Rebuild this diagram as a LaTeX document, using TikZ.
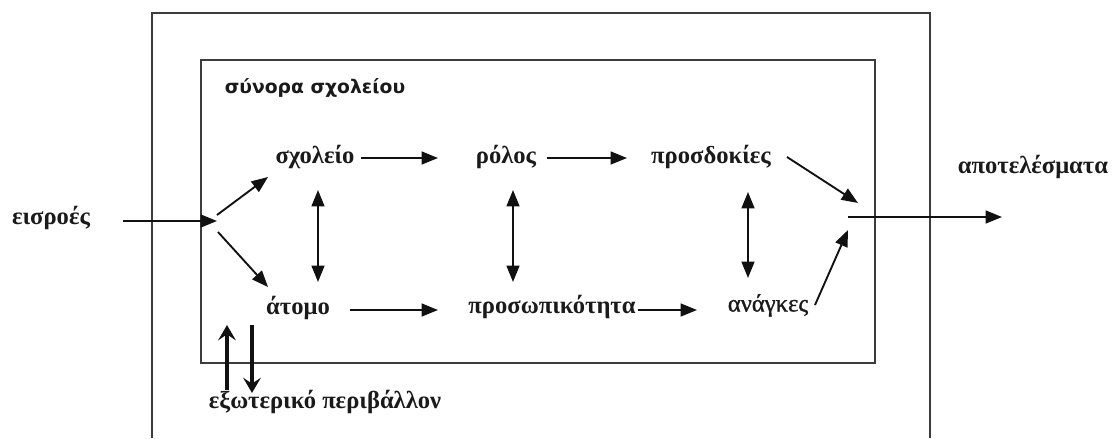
\documentclass[tikz,border=0pt]{standalone}
\usepackage{fontspec}
\setmainfont{Liberation Serif}
\newfontfamily\sansgr{DejaVu Sans}
\newfontfamily\semiserif[FakeBold=1.2]{Liberation Serif}
\usepackage{xcolor}
\usepackage{tikz}
\usetikzlibrary{arrows.meta,calc}
\definecolor{cFrame}{HTML}{3C3C3C}
\definecolor{cArrow}{HTML}{111111}
\definecolor{cWord}{HTML}{1A1A1A}
\tikzset{
  frameline/.style={draw=cFrame,line width=2pt},
  word/.style={font=\bfseries\fontsize{21}{25}\selectfont,text=cWord,inner sep=0pt,
      text height=10pt,text depth=4pt},
  wordlight/.style={word,font=\semiserif\fontsize{21}{25}\selectfont},
  rimlabel/.style={font=\sansgr\bfseries\fontsize{16}{19}\selectfont,text=cWord,
      inner sep=0pt},
  flow/.style={-{Triangle[length=14pt,width=11pt]},line width=1.6pt,draw=cArrow},
  dflow/.style={{Triangle[length=14pt,width=11pt]}-{Triangle[length=14pt,width=11pt]},
      line width=1.6pt,draw=cArrow},
  envflow/.style={-{Stealth[length=13pt,width=15pt,inset=5pt]},line width=2.6pt,
      draw=cArrow},
}
\newcommand{\wordat}[4]{\node[#1] (#2) at (#3) {#4};}

\begin{document}
\begin{tikzpicture}[x=0.03cm,y=-0.03cm]
  \useasboundingbox (0,0) rectangle (1115,438);

  \draw[frameline] (152,438) -- (152,13) -- (930,13) -- (930,438);
  \draw[frameline] (201,60) rectangle (875,363);

  \wordat{rimlabel}{orio}{315,88}{σύνορα σχολείου}
  \wordat{word}{eisroes}{51,221}{εισροές}
  \wordat{word}{sxoleio}{315,160}{σχολείο}
  \wordat{word}{rolos}{506,160}{ρόλος}
  \wordat{word}{prosdokies}{711,160}{προσδοκίες}
  \wordat{word}{atomo}{298,311}{άτομο}
  \wordat{word}{prosopik}{552,310}{προσωπικότητα}
  \wordat{wordlight}{anagkes}{768,308}{ανάγκες}
  \wordat{word}{apotel}{1033,170}{αποτελέσματα}
  \wordat{word}{perivallon}{325,405}{εξωτερικό περιβάλλον}

  \coordinate (split) at (217,221);
  \coordinate (merge) at (848,217);
  \coordinate (exit) at (1002,217);

  \draw[flow] ($(eisroes)+(72,0)$) -- (split);
  \draw[flow] ($(split)+(0,-6)$) -- ($(sxoleio)+(-47,17)$);
  \draw[flow] ($(split)+(1,11)$) -- ($(atomo)+(-30,-24)$);

  \draw[flow] ($(sxoleio)+(46,-2)$) -- ($(rolos)+(-68,-2)$);
  \draw[flow] ($(rolos)+(41,-2)$) -- ($(prosdokies)+(-84,-2)$);
  \draw[flow] ($(atomo)+(52,-1)$) -- ($(prosopik)+(-114,0)$);
  \draw[flow] ($(prosopik)+(86,0)$) -- ($(anagkes)+(-71,2)$);

  \draw[dflow] ($(sxoleio)+(3,30)$) -- ($(atomo)+(20,-29)$);
  \draw[dflow] ($(rolos)+(7,30)$) -- ($(prosopik)+(-39,-28)$);
  \draw[dflow] ($(prosdokies)+(37,32)$) -- ($(anagkes)+(-20,-30)$);

  \draw[flow] ($(prosdokies)+(76,-3)$) -- ($(merge)+(10,-14)$);
  \draw[flow] ($(anagkes)+(47,-3)$) -- ($(merge)+(0,13)$);
  \draw[flow] (merge) -- (exit);

  \draw[envflow] ($(perivallon)+(-98,-15)$) -- ($(atomo)+(-71,14)$);
  \draw[envflow] ($(atomo)+(-46,14)$) -- ($(perivallon)+(-73,-12)$);
\end{tikzpicture}
\end{document}
